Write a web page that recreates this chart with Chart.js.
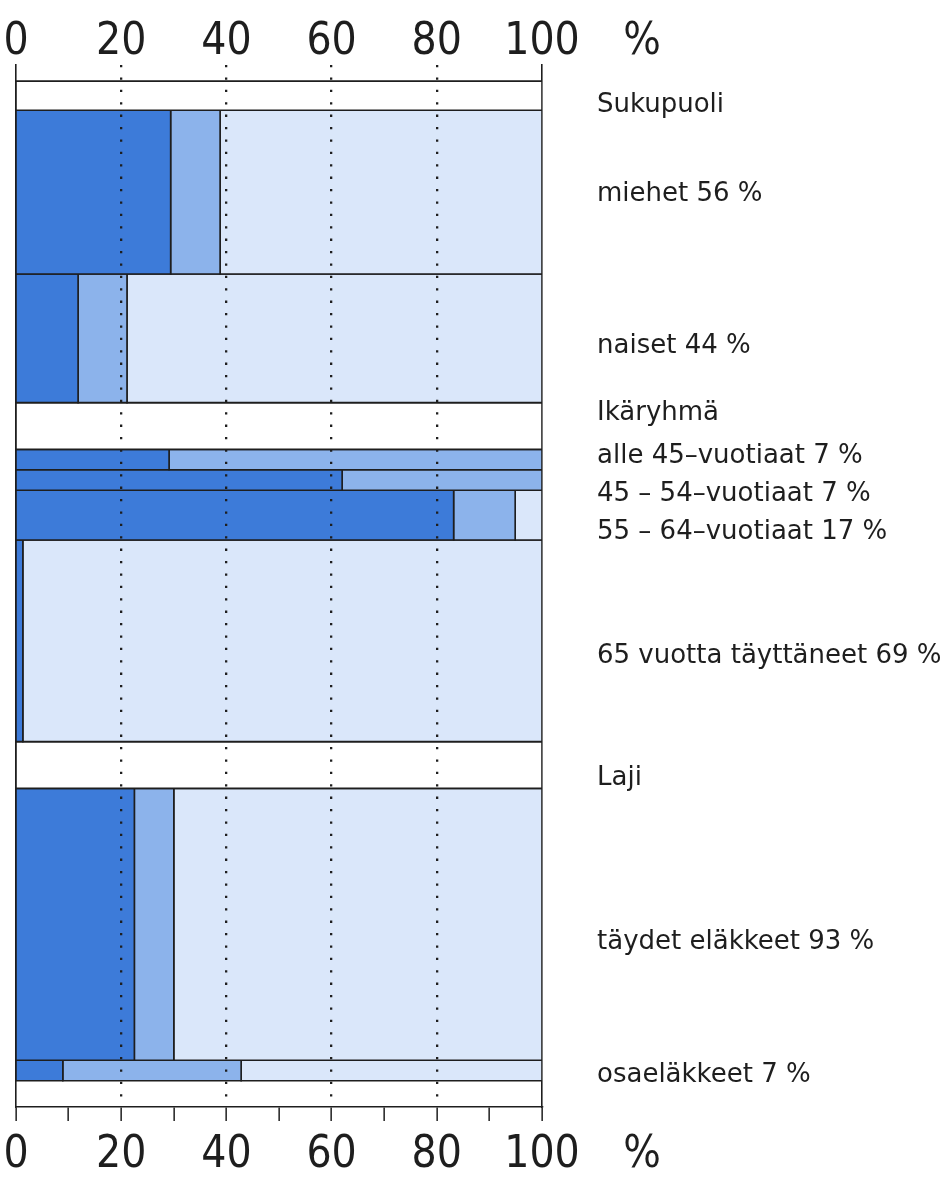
<!DOCTYPE html>
<html>
<head>
<meta charset="utf-8">
<script src="https://cdn.jsdelivr.net/npm/chart.js@4.4.1/dist/chart.umd.min.js"></script>
<style>
  html, body { margin: 0; padding: 0; background: #fff; }
  #wrap { width: 948px; height: 1178px; position: relative; }
</style>
</head>
<body>
<div id="wrap"><canvas id="myChart"></canvas></div>
<script>
// ryhmät ja rivit
const groups = ['Sukupuoli', 'Ikäryhmä', 'Laji'];
const rowNames = ['miehet', 'naiset', 'alle 45–vuotiaat', '45 – 54–vuotiaat', '55 – 64–vuotiaat', '65 vuotta täyttäneet', 'täydet eläkkeet', 'osaeläkkeet'];
const rowGroup = [0, 0, 1, 1, 1, 1, 2, 2];
const rowShare = [56, 44, 7, 7, 17, 69, 93, 7]; // rivin osuus ryhmästä, %
const darkPart = [29.4, 11.8, 29.1, 62, 83.2, 1.3, 22.5, 8.9]; // tumma osa, %
const midPart = [9.4, 9.3, 70.9, 38, 11.7, 0, 7.5, 33.9]; // keskisävy, % (loput vaalea)
const xTickValues = [0, 10, 20, 30, 40, 50, 60, 70, 80, 90, 100];
const xLabelValues = [0, 20, 40, 60, 80, 100];

// ulkoasu
const ink = '#1e1e1e';
const fills = ['#3d7bd9', '#8cb3eb', '#dae7fa'];
const topGap = 5.5, headH = [10, 16, 16], bottomGap = 9;
const labelNudge = [3.1, 0.7, 2.8, -4.5, -1.3, 4.7, 5.8, 5.3, 4.6, 6.3, 1.6];
const pctTick = 119;
const numFont = { family: "'Liberation Sans Narrow', 'DejaVu Sans Condensed', sans-serif", size: 44, lineHeight: 1 };

let rects = [];
let labelY = [];
let labelText = [];
let y = topGap;
groups.forEach((g, gi) => {
    rects.push({ x0: 0, x1: 100, y0: y, y1: y + headH[gi], color: '#ffffff' });
    labelY.push(y + headH[gi] / 2);
    labelText.push(g);
    y += headH[gi];
    rowNames.forEach((name, i) => {
        if (rowGroup[i] !== gi) return;
        let y1 = y + rowShare[i];
        let cuts = [0, darkPart[i], darkPart[i] + midPart[i], 100];
        for (let k = 0; k < 3; k++) {
            if (cuts[k + 1] > cuts[k]) {
                rects.push({ x0: cuts[k], x1: cuts[k + 1], y0: y, y1: y1, color: fills[k] });
            }
        }
        labelY.push((y + y1) / 2);
        labelText.push(name + ' ' + rowShare[i] + ' %');
        y = y1;
    });
});
const yMax = y + bottomGap;
labelY = labelY.map((v, i) => v + labelNudge[i]);

const datasets = rects.map(r => ({
    data: [
        { x: r.x0, y: r.y0 }, { x: r.x1, y: r.y0 },
        { x: r.x1, y: r.y1 }, { x: r.x0, y: r.y1 }, { x: r.x0, y: r.y0 }
    ],
    showLine: true,
    fill: 'shape',
    backgroundColor: r.color,
    borderColor: ink,
    borderWidth: 1.6,
    borderCapStyle: 'square',
    pointRadius: 0,
    tension: 0
}));

// akselin koko kiinni, ei automaattista reunatäytettä
function fixBox(w, h) {
    return a => {
        if (w !== null) a.width = w;
        if (h !== null) a.height = h;
        a.paddingTop = 0; a.paddingBottom = 0; a.paddingLeft = 0; a.paddingRight = 0;
    };
}

const config = {
    type: 'scatter',
    data: { datasets: datasets },
    options: {
        responsive: true,
        maintainAspectRatio: false,
        animation: false,
        events: [],
        layout: { padding: { left: 16, right: 0, top: 0, bottom: 0 } },
        plugins: { legend: { display: false }, tooltip: { enabled: false } },
        scales: {
            x: {
                type: 'linear', position: 'bottom', min: 0, max: 100,
                afterBuildTicks: a => { a.ticks = xTickValues.concat([pctTick]).map(v => ({ value: v })); },
                afterFit: fixBox(null, 71),
                ticks: {
                    autoSkip: false, maxRotation: 0, color: ink, font: numFont, padding: 13,
                    callback: v => v === pctTick ? '%' : (xLabelValues.includes(v) ? String(v) : '')
                },
                grid: {
                    z: 1,
                    lineWidth: 2.3,
                    color: c => (c.tick && c.tick.value > 0 && c.tick.value < 100 && xLabelValues.includes(c.tick.value)) ? ink : 'rgba(0,0,0,0)',
                    tickLength: 14,
                    tickWidth: 1.5,
                    tickColor: c => (c.tick && c.tick.value <= 100) ? ink : 'rgba(0,0,0,0)'
                },
                border: { display: true, color: ink, width: 1.6, dash: [2.3, 10.1], z: 2 }
            },
            xTop: {
                type: 'linear', position: 'top', min: 0, max: 100,
                afterBuildTicks: a => { a.ticks = xLabelValues.concat([pctTick]).map(v => ({ value: v })); },
                afterFit: fixBox(null, 65),
                ticks: {
                    autoSkip: false, maxRotation: 0, color: ink, font: numFont, padding: 0,
                    callback: v => v === pctTick ? '%' : String(v)
                },
                grid: { display: false, drawTicks: false },
                border: { display: false }
            },
            y: {
                type: 'linear', position: 'right', reverse: true, min: 0, max: yMax,
                afterBuildTicks: a => { a.ticks = labelY.map(v => ({ value: v })); },
                afterFit: fixBox(406, null),
                ticks: {
                    autoSkip: false, color: ink, padding: 55,
                    font: { family: "'DejaVu Sans', sans-serif", size: 26 },
                    callback: (v, i) => labelText[i]
                },
                grid: { display: false, drawTicks: false },
                border: { display: true, color: ink, width: 1.6 }
            },
            yLeft: {
                type: 'linear', position: 'left', reverse: true, min: 0, max: yMax,
                afterFit: fixBox(0, null),
                ticks: { display: false },
                grid: { display: false, drawTicks: false },
                border: { display: true, color: ink, width: 1.6 }
            }
        }
    }
};

const myChart = new Chart(document.getElementById('myChart'), config);
</script>
</body>
</html>
